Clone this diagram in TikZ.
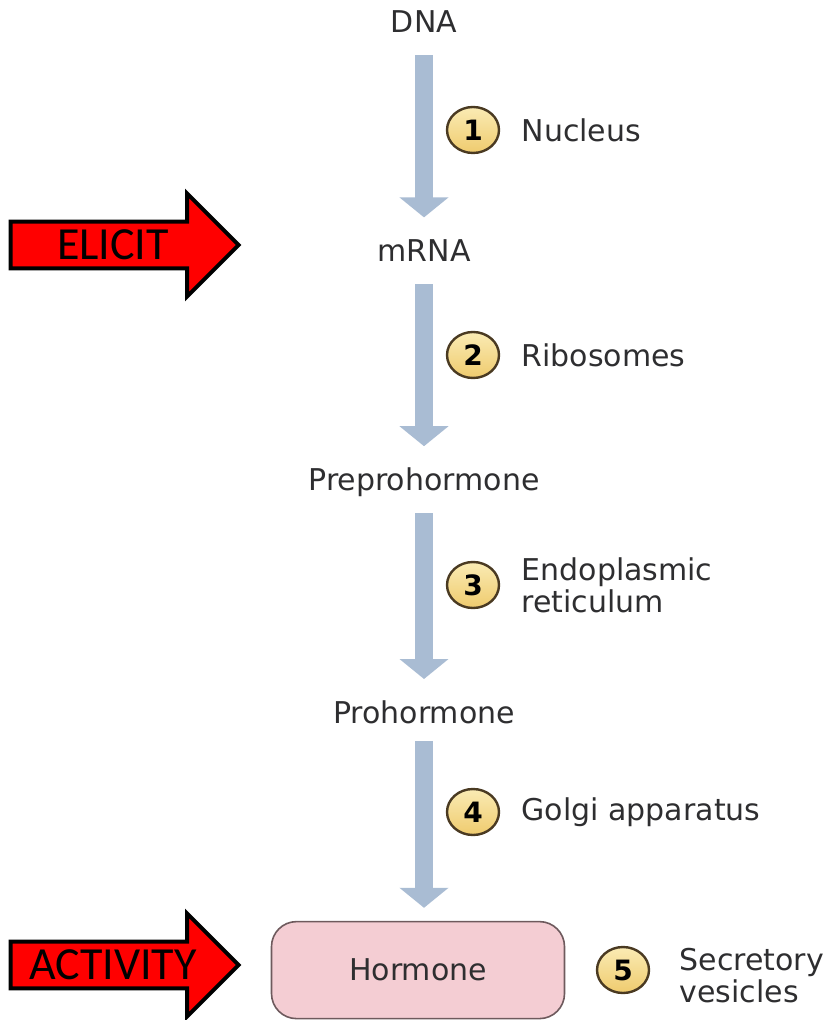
\documentclass[tikz,border=0pt]{standalone}
\usepackage{fontspec}
\setmainfont{DejaVu Sans}
\newfontfamily\calfont{Carlito}
\usetikzlibrary{arrows.meta,positioning,shapes.geometric,shapes.arrows}
\definecolor{hsFlow}{HTML}{A9BCD3}
\definecolor{hsInk}{HTML}{2E2E30}
\definecolor{hsGold}{HTML}{EFCB6E}
\definecolor{hsGoldLight}{HTML}{FAEBB4}
\definecolor{hsBrown}{HTML}{4A3A22}
\definecolor{hsPink}{HTML}{F4CDD3}
\definecolor{hsRose}{HTML}{6E5A5D}
\tikzset{
  stage/.style={inner sep=0pt, text height=11pt, text depth=3pt, text=hsInk, font=\fontsize{15pt}{16pt}\selectfont},
  hormbox/.style={draw=hsRose, fill=hsPink, line width=0.8pt, rounded corners=12.5pt, minimum width=146.5pt, minimum height=48.5pt, text=hsInk, font=\fontsize{15pt}{16pt}\selectfont},
  flow/.style={-{Triangle[width=24pt,length=10pt]}, line width=9pt, draw=hsFlow, shorten <=8pt, shorten >=11pt},
  badge/.style={ellipse, draw=hsBrown, line width=1.2pt, top color=hsGoldLight, bottom color=hsGold, minimum width=26pt, minimum height=23pt, inner sep=0pt, font=\bfseries\fontsize{14pt}{15pt}\selectfont},
  note/.style={inner sep=0pt, align=left, text=hsInk, font=\fontsize{15pt}{16pt}\selectfont},
  callout/.style={single arrow, draw=black, line width=2pt, fill=red, minimum height=114pt, minimum width=51.5pt, single arrow head extend=12.75pt, inner sep=2pt, font=\calfont\fontsize{23pt}{26pt}\selectfont},
}
\begin{document}
\begin{tikzpicture}[x=0.5pt, y=-0.5pt]
  \useasboundingbox (0,0) rectangle (827,1020);
  % main column
  \node[stage] (dna) at (424,25) {DNA};
  \node[stage, below=100pt of dna] (mrna) {mRNA};
  \node[stage, below=100pt of mrna] (prepro) {Preprohormone};
  \node[stage, below=102pt of prepro] (pro) {Prohormone};
  \node[hormbox, below=95.5pt of pro, xshift=-3pt] (horm) {Hormone};
  \draw[flow] (dna) -- (mrna);
  \draw[flow] (mrna) -- (prepro);
  \draw[flow] (prepro) -- (pro);
  \draw[flow, shorten <=5.5pt, shorten >=6.5pt] (pro) -- (pro |- horm.north);
  % steps
  \node[badge] (b1) at (473,130) {1};
  \node[badge] (b2) at (473,355) {2};
  \node[badge] (b3) at (473,585) {3};
  \node[badge] (b4) at (473,812) {4};
  \node[badge] (b5) at (623,970) {5};
  \node[note, right=10.5pt of b1] (l1) {Nucleus};
  \node[note, right=10.5pt of b2] (l2) {Ribosomes};
  \node[note, right=10.5pt of b3] (l3) {Endoplasmic\\reticulum};
  \node[note, right=10.5pt of b4] (l4) {Golgi apparatus};
  \node[note, right=14.5pt of b5, yshift=-3pt] (l5) {Secretory\\vesicles};
  % red callouts
  \node[callout] (elicit) at (113,245) {ELICIT};
  \node[callout] (activity) at (113,965) {ACTIVITY};
\end{tikzpicture}
\end{document}
